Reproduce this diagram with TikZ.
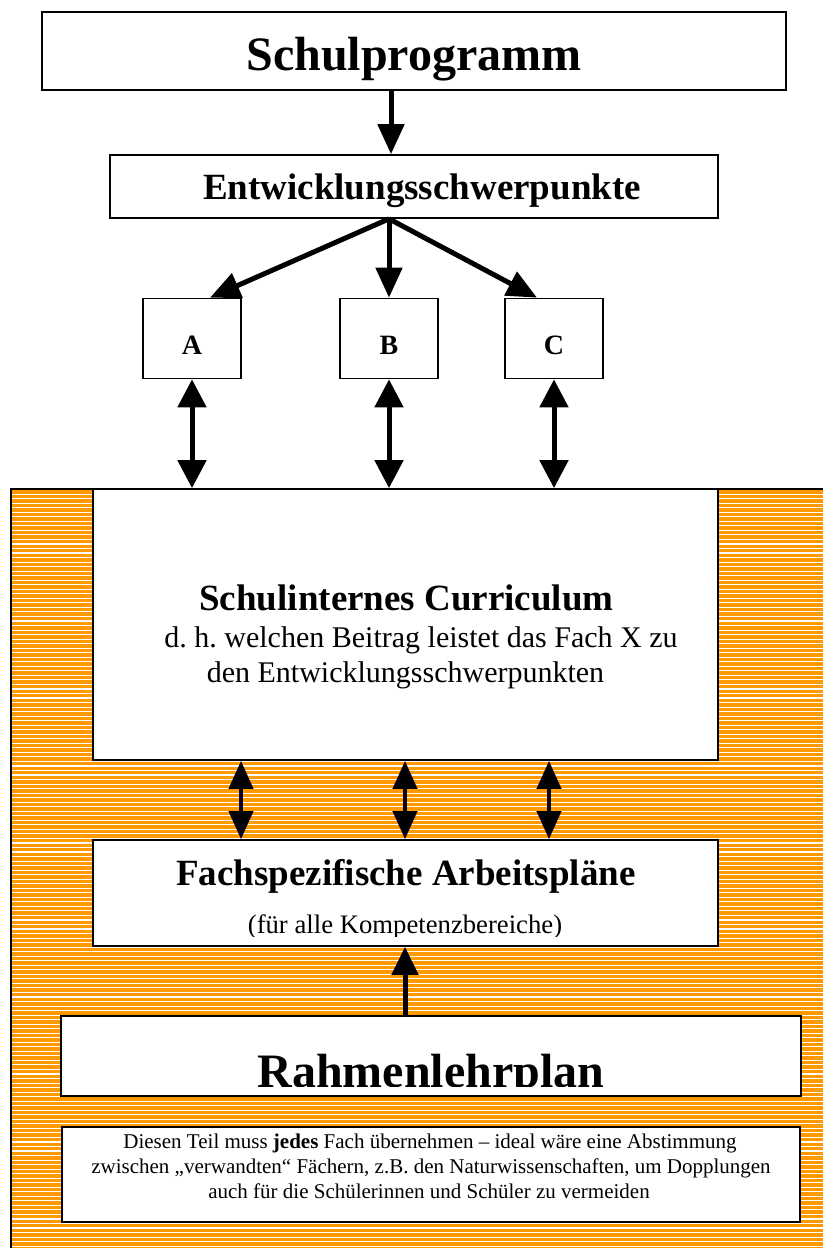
\documentclass[tikz,border=0pt]{standalone}
\usepackage{fontspec}
\setmainfont{Liberation Serif}
\usetikzlibrary{arrows.meta}
\definecolor{orangebg}{HTML}{FF9900}
\frenchspacing
\begin{document}
\begin{tikzpicture}[x=1pt,y=-1pt,
  box/.style={draw=black,line width=1.7pt,fill=white,rectangle,inner sep=0pt},
  txt/.style={anchor=base,inner sep=0pt},
  bighead/.style={txt,font=\bfseries\fontsize{48}{56}\selectfont},
  head/.style={txt,font=\bfseries\fontsize{37}{44}\selectfont},
  letter/.style={txt,font=\bfseries\fontsize{28}{32}\selectfont},
  body/.style={txt,font=\fontsize{30}{35}\selectfont},
  sub/.style={txt,font=\fontsize{26.7}{31}\selectfont},
  note/.style={txt,font=\fontsize{21}{25}\selectfont},
  arr/.style={line width=5pt,-{Triangle[length=30pt,width=26pt]}},
  darr/.style={line width=5pt,{Triangle[length=28pt,width=28pt]}-{Triangle[length=28pt,width=28pt]}},
  darrs/.style={line width=4pt,{Triangle[length=28pt,width=24pt]}-{Triangle[length=28pt,width=24pt]}},
  uarr/.style={line width=5pt,-{Triangle[length=28pt,width=26pt]}}
]
\useasboundingbox (0,0) rectangle (823,1248);

% striped orange background
\fill[orangebg] (11,489) rectangle (823,1248);
\foreach \i in {0,...,167}
  \fill[white] (11,{493.6+4.53*\i}) rectangle (823,{494.7+4.53*\i});
\draw[line width=1.7pt] (11,1248) -- (11,489) -- (823,489);

% boxes
\node[box,minimum width=744pt,minimum height=78pt] (sp) at (414,51) {};
\node[box,minimum width=608pt,minimum height=63pt] (ent) at (414,186.5) {};
\node[box,minimum width=98pt,minimum height=80pt] (a) at (192,338.5) {};
\node[box,minimum width=98pt,minimum height=80pt] (b) at (389,338.5) {};
\node[box,minimum width=98pt,minimum height=80pt] (c) at (554,338.5) {};
\node[box,minimum width=625pt,minimum height=271pt] (cur) at (405.5,624.5) {};
\node[box,minimum width=625pt,minimum height=106pt] (fach) at (405.5,893) {};
\node[box,minimum width=740pt,minimum height=80pt] (rlp) at (431,1056) {};
\node[box,minimum width=738pt,minimum height=95pt] (note) at (431,1174.5) {};

% texts
\node[bighead] (spt) at (414,70) {Schulprogramm};
\node[head] (entt) at (422,199) {Entwicklungsschwerpunkte};
\node[letter] (at) at (192,354) {A};
\node[letter] (bt) at (389,354) {B};
\node[letter] (ct) at (554,354) {C};
\node[head] (curt) at (406.5,610) {Schulinternes Curriculum};
\node[body] (cur1) at (421,647) {d. h. welchen Beitrag leistet das Fach X zu};
\node[body] (cur2) at (405.5,682) {den Entwicklungsschwerpunkten};
\node[head] (facht) at (406,885) {Fachspezifische Arbeitspläne};
\begin{scope}
  \clip (94,841) rectangle (717,936);
  \node[sub] (fachs) at (405,933) {(für alle Kompetenzbereiche)};
\end{scope}
\begin{scope}
  \clip (62,1017) rectangle (800,1086);
  \node[bighead] (rlpt) at (431,1087) {Rahmenlehrplan};
\end{scope}
\node[note] (n1) at (430,1148) {Diesen Teil muss \textbf{jedes} Fach übernehmen – ideal wäre eine Abstimmung};
\node[note] (n2) at (431,1173) {zwischen „verwandten“ Fächern, z.B. den Naturwissenschaften, um Dopplungen};
\node[note] (n3) at (429,1198) {auch für die Schülerinnen und Schüler zu vermeiden};

% arrow columns
\coordinate (k0) at (391,0);
\coordinate (ka) at (210,0);
\coordinate (kc) at (537,0);
\coordinate (l1) at (241,0);
\coordinate (l2) at (405,0);
\coordinate (l3) at (549,0);

% connectors
\draw[arr] (sp.south -| k0) -- (ent.north -| k0);
\draw[arr] (ent.south -| b) -- (a.north -| ka);
\draw[arr] (ent.south -| b) -- (b.north);
\draw[arr] (ent.south -| b) -- (c.north -| kc);
\draw[darr] (a.south) -- (cur.north -| a);
\draw[darr] (b.south) -- (cur.north -| b);
\draw[darr] (c.south) -- (cur.north -| c);
\draw[darrs] (cur.south -| l1) -- (fach.north -| l1);
\draw[darrs] (cur.south -| l2) -- (fach.north -| l2);
\draw[darrs] (cur.south -| l3) -- (fach.north -| l3);
\draw[uarr] (rlp.north -| l2) -- (fach.south -| l2);
\end{tikzpicture}
\end{document}
